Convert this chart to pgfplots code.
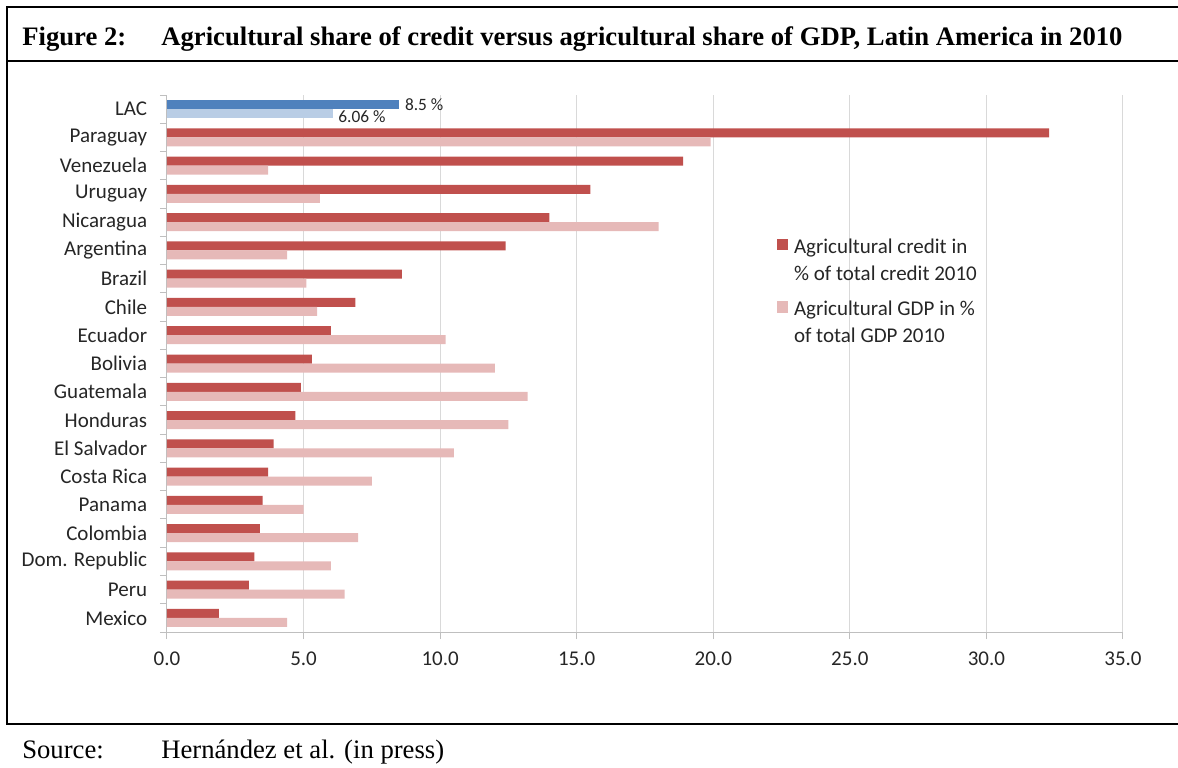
\documentclass[border=0pt]{standalone}
\usepackage{pgfplots}
\pgfplotsset{compat=1.18}
\usepackage{pgfplotstable}
\usepackage{fontspec}
\setmainfont{Liberation Serif}
\newfontfamily\calibri{Carlito}

\definecolor{credit}{HTML}{C0504D}
\definecolor{gdp}{HTML}{E6B9B8}
\definecolor{lacdark}{HTML}{4F81BD}
\definecolor{laclight}{HTML}{B9CDE5}
\definecolor{gridgray}{HTML}{D9D9D9}
\definecolor{axisgray}{HTML}{BFBFBF}

% countries, bottom (0) to top (17); LAC is plotted on its own at 18
\pgfplotstableread{
idx credit gdp
0  1.9  4.4
1  3.0  6.5
2  3.2  6.0
3  3.4  7.0
4  3.5  5.0
5  3.7  7.5
6  3.9  10.5
7  4.7  12.5
8  4.9  13.2
9  5.3  12.0
10 6.0  10.2
11 6.9  5.5
12 8.6  5.1
13 12.4 4.4
14 14.0 18.0
15 15.5 5.6
16 18.9 3.7
17 32.3 19.9
}\countries

\begin{document}
\begin{tikzpicture}
% 1 unit = 1 px of the 1178x767 reference, y measured from the bottom
\begin{scope}[x=0.6pt,y=0.6pt]
\useasboundingbox (0,0) rectangle (1178,767);
\draw[line width=1.5pt] (1178,760) -- (7,760) -- (7,43) -- (1178,43);
\draw[line width=1.5pt] (7,706) -- (1178,706);
\node[anchor=base west, inner sep=0, font=\fontsize{16}{19}\selectfont\bfseries] at (22,721) {Figure 2:};
\node[anchor=base west, inner sep=0, font=\fontsize{16}{19}\selectfont\bfseries] at (161,721)
  {Agricultural share of credit versus agricultural share of GDP, Latin America in 2010};
\node[anchor=base west, inner sep=0, font=\fontsize{16}{19}\selectfont] at (22,9) {Source:};
\node[anchor=base west, inner sep=0, font=\fontsize{16}{19}\selectfont] at (161,9) {Hernández et al. (in press)};
\end{scope}

\begin{axis}[
    at={(100.2pt,81pt)}, anchor=south west,
    scale only axis, width=573.6pt, height=322.2pt,
    xmin=0, xmax=35, ymin=-0.5, ymax=18.5,
    xbar, bar width=5.4pt,
    axis x line*=bottom, axis y line*=left,
    axis line style={axisgray, line width=0.6pt, -},
    tick align=outside, major tick length=4.2pt,
    tick style={axisgray, line width=0.6pt},
    xtick={0,5,...,35},
    xmajorgrids, major grid style={gridgray, line width=0.6pt},
    ytick={-0.5,0.5,...,18.5},
    y tick label as interval,
    yticklabels={Mexico,Peru,Dom. Republic,Colombia,Panama,Costa Rica,El Salvador,Honduras,Guatemala,Bolivia,Ecuador,Chile,Brazil,Argentina,Nicaragua,Uruguay,Venezuela,Paraguay,LAC},
    /pgf/number format/assume math mode=true,
    ticklabel style={font=\calibri\fontsize{12.6}{15}\selectfont, text=black!85},
    xticklabel style={yshift=-4.2pt, /pgf/number format/.cd, fixed, fixed zerofill, precision=1},
    yticklabel style={xshift=-4.2pt},
    legend cell align=left,
    legend style={at={(0.632,0.745)}, anchor=north west, draw=none, fill=none,
      font=\calibri\fontsize{12.6}{16.2}\selectfont, text=black!85,
      cells={align=left}, row sep=7pt},
    legend image code/.code={\fill[#1] (0pt,6.4pt) rectangle (7pt,13.4pt);
      \path (8.5pt,10pt);},
  ]
  \addplot[fill=credit, draw=none, bar shift=2.7pt] table[x=credit, y=idx] {\countries};
  \addlegendentry{Agricultural credit in\\\% of total credit 2010}
  \addplot[fill=gdp, draw=none, bar shift=-2.7pt] table[x=gdp, y=idx] {\countries};
  \addlegendentry{Agricultural GDP in \%\\of total GDP 2010}

  \addplot[fill=lacdark, draw=none, bar shift=2.7pt, forget plot,
    point meta=explicit symbolic, nodes near coords,
    nodes near coords style={anchor=west, font=\calibri\fontsize{10.4}{12}\selectfont, text=black!85}]
    coordinates {(8.5,18) [8.5 \%]};
  \addplot[fill=laclight, draw=none, bar shift=-2.7pt, forget plot,
    point meta=explicit symbolic, nodes near coords,
    nodes near coords style={anchor=west, yshift=-2pt, font=\calibri\fontsize{10.4}{12}\selectfont, text=black!85}]
    coordinates {(6.06,18) [6.06 \%]};
\end{axis}
\end{tikzpicture}
\end{document}
